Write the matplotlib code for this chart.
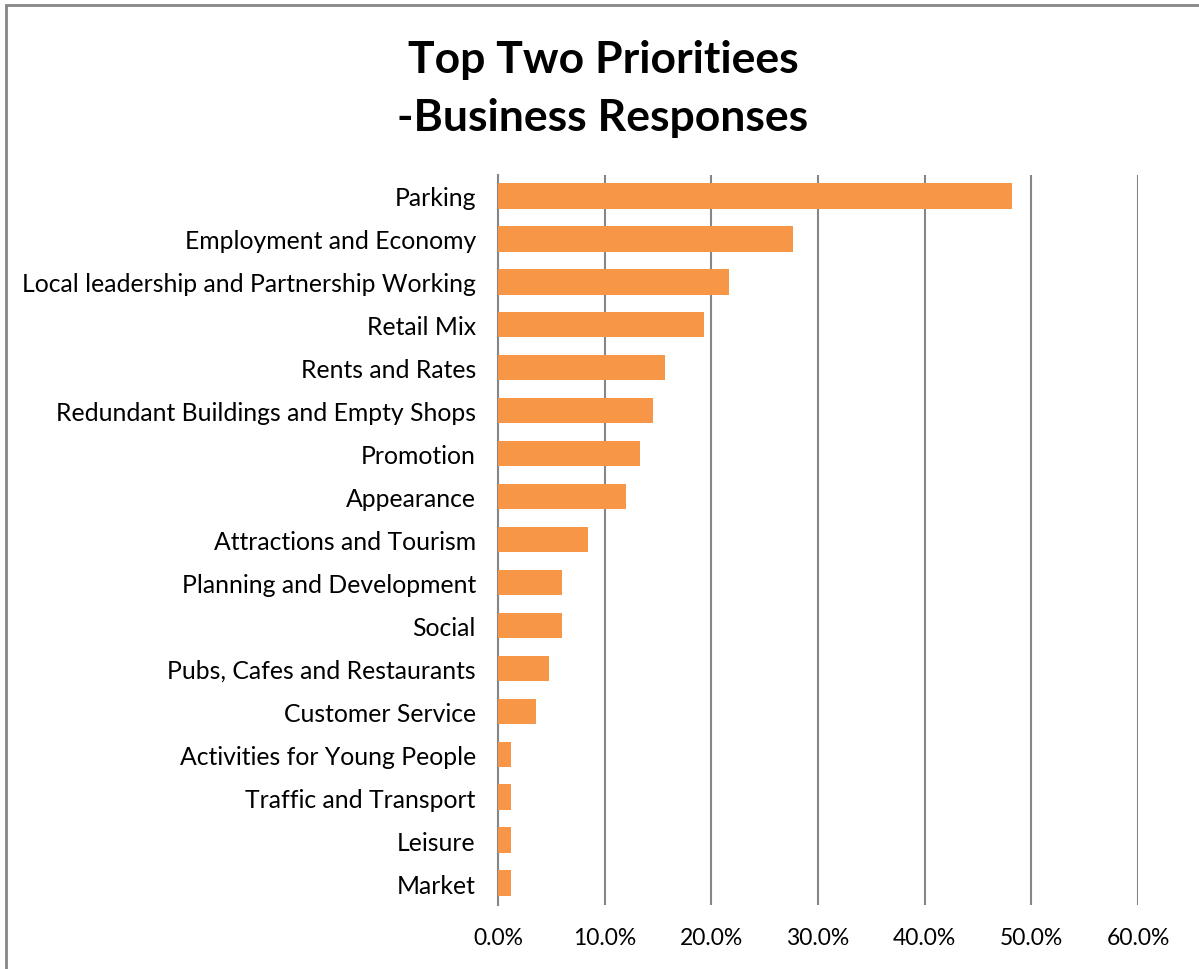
import matplotlib
matplotlib.use("Agg")
import matplotlib.pyplot as plt
from matplotlib.patches import Rectangle
from matplotlib.ticker import FuncFormatter

categories = [
    "Parking", "Employment and Economy", "Local leadership and Partnership Working",
    "Retail Mix", "Rents and Rates", "Redundant Buildings and Empty Shops",
    "Promotion", "Appearance", "Attractions and Tourism", "Planning and Development",
    "Social", "Pubs, Cafes and Restaurants", "Customer Service",
    "Activities for Young People", "Traffic and Transport", "Leisure", "Market",
]
values = [48.2, 27.7, 21.7, 19.3, 15.7, 14.5, 13.3, 12.0, 8.4, 6.0,
          6.0, 4.8, 3.6, 1.2, 1.2, 1.2, 1.2]
xticks = [0, 10, 20, 30, 40, 50, 60]

plt.rcParams['font.family'] = ['Lato', 'DejaVu Sans']

fig = plt.figure(figsize=(11.99, 9.70), dpi=100)
ax = fig.add_axes([498 / 1199, 1 - 905.5 / 970, (1138 - 498) / 1199, (905.5 - 175.5) / 970])

pos = list(range(len(categories)))
ax.barh(pos, values, height=0.59, color='#F79646', zorder=3)
ax.set_yticks(pos)
ax.set_yticklabels(categories, fontsize=17.8)
ax.set_ylim(len(categories) - 0.5, -0.5)
ax.set_xlim(0, 60)
ax.set_xticks(xticks)
ax.xaxis.set_major_formatter(FuncFormatter(lambda v, p: f"{v:.1f}%"))
ax.tick_params(axis='x', labelsize=16.5, length=0, pad=16)
ax.tick_params(axis='y', length=0, pad=16)
ax.grid(axis='x', color='#868686', linewidth=1.5, zorder=0)
for s in ['top', 'right', 'bottom']:
    ax.spines[s].set_visible(False)
ax.spines['left'].set_color('#868686')
ax.spines['left'].set_linewidth(1.5)

fig.text(603 / 1199, 1 - 89 / 970, "Top Two Prioritiees\n-Business Responses",
         ha='center', va='center', fontsize=32, fontweight='bold', linespacing=1.55)

fig.patches.append(Rectangle((6 / 1199, -0.05), 1.1, 1 - 6 / 970 + 0.05,
                             transform=fig.transFigure, fill=False,
                             edgecolor='#868686', linewidth=2))

fig.savefig("out.png", dpi=100)
